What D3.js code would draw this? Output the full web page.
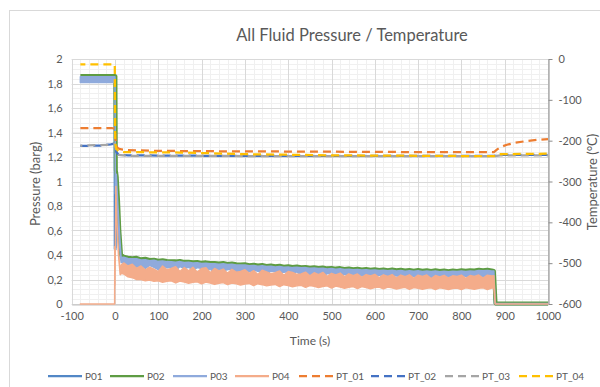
<!DOCTYPE html>
<html><head><meta charset="utf-8">
<script src="https://cdn.jsdelivr.net/npm/d3@7"></script>
<style>
body{margin:0;background:#fff}
svg{display:block;font-family:Lato,"Open Sans",sans-serif}
</style>
</head><body>
<svg id="chart" width="600" height="387"></svg>
<script>
// ---------- DATA ----------
const title = "All Fluid Pressure / Temperature";
const xTitle = "Time (s)";
const yLeftTitle = "Pressure (barg)";
const yRightTitle = "Temperature (°C)";
const xTicks = [-100,0,100,200,300,400,500,600,700,800,900,1000];
const leftTicks = [0,0.2,0.4,0.6,0.8,1,1.2,1.4,1.6,1.8,2];
const leftTickLabels = ["0","0,2","0,4","0,6","0,8","1","1,2","1,4","1,6","1,8","2"];
const rightTicks = [0,-100,-200,-300,-400,-500,-600];
const rightTickLabels = ["0","-100","-200","-300","-400","-500","-600"];
const seriesNames = ["P01","P02","P03","P04","PT_01","PT_02","PT_03","PT_04"];
const seriesColors = ["#5287C6","#5E9C43","#8FAADC","#F4AC8A","#ED7D31","#4472C4","#A5A5A5","#FFC000"];

// sample times of the noisy flow period (s)
const noiseTime = d3.range(20, 871, 10);

// P01 [t, value]
const p01Head = [[-80,1.826],[0,1.826],[0.5,0.45],[1.5,0.9],[3,1.05],[6,0.85],[10,0.55],[14,0.37]];
const p01Noise = [.372,.365,.36,.362,.352,.356,.347,.35,.34,.346,.339,.338,.334,.34,.33,.333,.328,.331,.323,.327,.321,.322,.317,.321,.314,.318,.311,.31,.312,.305,.308,.301,.305,.298,.302,.295,.299,.292,.296,.289,.293,.287,.29,.283,.287,.281,.285,.278,.282,.276,.28,.273,.277,.271,.275,.269,.273,.267,.271,.265,.269,.263,.268,.262,.266,.26,.265,.259,.264,.258,.263,.257,.262,.256,.261,.255,.26,.257,.262,.258,.263,.26,.266,.263,.267,.261];
const p01Tail = [[875,.26],[878,.003],[1000,.003]];

// P02 [t, value]
const p02Head = [[-80,1.862],[0,1.862],[1,1.86],[2,1.09],[4,1.04],[7,0.85],[10,0.6],[14,0.4]];
const p02Noise = [.386,.378,.374,.377,.365,.369,.360,.362,.354,.358,.352,.350,.348,.351,.344,.345,.341,.343,.336,.340,.334,.335,.330,.334,.327,.331,.324,.323,.325,.317,.321,.314,.318,.311,.315,.308,.312,.305,.309,.302,.306,.300,.303,.296,.300,.294,.298,.291,.295,.289,.293,.286,.290,.284,.288,.282,.286,.280,.284,.278,.282,.276,.281,.275,.279,.273,.278,.272,.277,.271,.276,.270,.275,.269,.274,.268,.273,.270,.275,.271,.276,.273,.279,.276,.280,.274];
const p02Tail = [[875,.27],[879,.004],[1000,.004]];

// P03 band [t, low, high]
const p03Head = [[-80,1.808,1.856],[0,1.808,1.856],[0.8,0.9,1.0],[3,0.98,1.06],[6,0.75,0.85],[10,0.5,0.6],[14,0.34,0.38]];
const p03NoiseHi = [.381,.371,.369,.370,.360,.362,.354,.357,.348,.352,.346,.345,.341,.346,.338,.340,.335,.337,.331,.333,.329,.329,.324,.328,.322,.325,.318,.318,.319,.312,.315,.309,.312,.306,.309,.303,.306,.300,.303,.297,.300,.295,.297,.291,.294,.289,.292,.286,.289,.284,.287,.281,.284,.279,.282,.277,.280,.275,.278,.273,.276,.271,.275,.270,.273,.268,.272,.267,.271,.266,.270,.265,.269,.264,.268,.263,.267,.265,.269,.266,.270,.268,.273,.271,.274,.269];
const p03NoiseLo = [.330,.310,.325,.300,.318,.290,.315,.300,.280,.312,.296,.300,.272,.306,.290,.300,.276,.298,.290,.264,.288,.250,.285,.270,.282,.286,.259,.260,.280,.262,.276,.268,.253,.240,.270,.263,.247,.260,.264,.247,.262,.235,.258,.241,.255,.249,.233,.246,.250,.234,.225,.243,.236,.239,.245,.228,.243,.236,.231,.234,.239,.222,.236,.228,.226,.230,.234,.225,.223,.226,.231,.215,.230,.224,.219,.223,.228,.215,.230,.226,.221,.228,.233,.220,.234,.229];
const p03Tail = [[875,.23,.27],[878,.002,.004],[1000,.002,.004]];

// P04 band [t, low, high]
const p04Head = [[-80,0,0],[-0.8,0,0],[-0.5,0.47,0.47],[0,0.15,0.15],[2,0.96,0.96],[4,0.7,0.7],[8,0.4,0.42],[12,0.24,0.28],[15,0.25,0.32]];
const p04NoiseHi = [.335,.31,.325,.29,.31,.278,.30,.285,.265,.31,.28,.29,.305,.265,.298,.27,.30,.26,.29,.295,.255,.29,.27,.285,.25,.283,.26,.265,.28,.25,.272,.24,.275,.262,.248,.255,.27,.235,.265,.258,.242,.245,.26,.23,.255,.24,.258,.225,.25,.238,.252,.222,.246,.232,.245,.218,.24,.228,.242,.215,.238,.225,.24,.212,.236,.222,.238,.21,.235,.225,.236,.208,.232,.22,.234,.212,.23,.224,.235,.21,.232,.225,.236,.212,.235,.228];
const p04NoiseLo = [.245,.222,.215,.2,.2,.19,.195,.185,.19,.178,.186,.19,.172,.188,.18,.17,.178,.182,.165,.18,.172,.16,.17,.175,.158,.172,.165,.155,.163,.168,.15,.166,.158,.148,.155,.16,.143,.158,.15,.14,.148,.153,.136,.151,.144,.135,.142,.148,.13,.146,.138,.128,.137,.143,.126,.142,.135,.125,.134,.139,.123,.138,.132,.122,.131,.136,.12,.135,.129,.12,.128,.133,.118,.132,.127,.119,.127,.131,.118,.132,.127,.12,.128,.132,.119,.13];
const p04Tail = [[875,.13,.23],[878,0,.001],[1000,0,.001]];

// Temperatures [t, °C]
const pt01 = [[-80,-169],[-8,-169],[0,-171],[1,-195],[3,-212],[6,-218],[12,-221],[30,-223],[100,-225],[250,-226],[500,-227],[700,-228],[875,-228],[882,-222],[890,-216],[905,-210],[925,-205],[950,-201],[975,-198],[1000,-196]];
const pt02 = [[-80,-213],[-30,-212],[-10,-209],[0,-207],[1,-215],[3,-228],[8,-234],[30,-236],[200,-237],[500,-237],[875,-237],[890,-235],[1000,-235]];
const pt03 = [[-80,-212],[-10,-210],[0,-208],[1,-216],[3,-229],[8,-235],[30,-237],[500,-238],[875,-238],[890,-236],[1000,-236]];
const pt04 = [[-80,-13],[-0.5,-13],[0,-120],[0.5,-205],[3,-220],[8,-226],[20,-228],[150,-229],[300,-233],[500,-236],[700,-237],[875,-238],[890,-233],[1000,-232]];

// ---------- BUILD ----------
function zipLine(head, vals, tail){
  const n = Math.min(noiseTime.length, vals.length);
  return head.concat(noiseTime.slice(0,n).map((t,i)=>[t, vals[i]]), tail);
}
function zipBand(head, lo, hi, tail){
  const n = Math.min(noiseTime.length, lo.length, hi.length);
  return head.concat(noiseTime.slice(0,n).map((t,i)=>[t, lo[i], hi[i]]), tail);
}
const P01 = zipLine(p01Head, p01Noise, p01Tail);
const P02 = zipLine(p02Head, p02Noise, p02Tail);
const P03 = zipBand(p03Head, p03NoiseLo, p03NoiseHi, p03Tail);
const P04 = zipBand(p04Head, p04NoiseLo, p04NoiseHi, p04Tail);

const svg = d3.select("#chart");
const textColor = "#595959";
const X0 = 71.7, X1 = 548, Y0 = 304, Y1 = 59;
const x = d3.scaleLinear().domain([-100,1000]).range([X0,X1]);
const yL = d3.scaleLinear().domain([0,2]).range([Y0,Y1]);
const yR = d3.scaleLinear().domain([-600,0]).range([Y0,Y1]);

// chart area border
svg.append("rect").attr("x",9.5).attr("y",10.5).attr("width",620).attr("height",400)
  .attr("fill","#fff").attr("stroke","#d9d9d9");

// grid
const g = svg.append("g");
const minorX = d3.range(-100, 1001, 20);
const minorY = d3.range(0, 2.0001, 0.04);
g.selectAll(".mx").data(minorX).join("line")
  .attr("x1",d=>Math.round(x(d))+0.5).attr("x2",d=>Math.round(x(d))+0.5)
  .attr("y1",Y1).attr("y2",Y0).attr("stroke","#f0f0f0").attr("stroke-width",1);
g.selectAll(".my").data(minorY).join("line")
  .attr("y1",d=>Math.round(yL(d))+0.5).attr("y2",d=>Math.round(yL(d))+0.5)
  .attr("x1",X0).attr("x2",X1).attr("stroke","#f0f0f0").attr("stroke-width",1);
g.selectAll(".Mx").data(xTicks).join("line")
  .attr("x1",d=>Math.round(x(d))+0.5).attr("x2",d=>Math.round(x(d))+0.5)
  .attr("y1",Y1).attr("y2",Y0).attr("stroke","#d9d9d9").attr("stroke-width",1);
g.selectAll(".My").data(leftTicks).join("line")
  .attr("y1",d=>Math.round(yL(d))+0.5).attr("y2",d=>Math.round(yL(d))+0.5)
  .attr("x1",X0).attr("x2",X1).attr("stroke","#d9d9d9").attr("stroke-width",1);

// axes
const xAxis = svg.append("g").attr("transform",`translate(0,${Math.round(Y0)+0.5})`)
  .call(d3.axisBottom(x).tickValues(xTicks).tickSize(0).tickPadding(8).tickFormat(d=>String(d)));
xAxis.select(".domain").attr("stroke","#bfbfbf");
const lAxis = svg.append("g").attr("transform",`translate(${X0-6},0)`)
  .call(d3.axisLeft(yL).tickValues(leftTicks).tickSize(0).tickPadding(3).tickFormat((d,i)=>leftTickLabels[i]));
lAxis.select(".domain").remove();
const rAxis = svg.append("g").attr("transform",`translate(${Math.round(X1)+0.5},0)`)
  .call(d3.axisRight(yR).tickValues(rightTicks).tickSizeInner(4).tickSizeOuter(0).tickPadding(6).tickFormat((d,i)=>rightTickLabels[i]));
rAxis.select(".domain").attr("stroke","#8c8c8c");
rAxis.selectAll(".tick line").attr("stroke","#8c8c8c");
svg.selectAll(".tick text").attr("fill",textColor).style("font-size","11px").style("font-family","Lato,sans-serif");

// series
const line = d3.line().x(d=>x(d[0])).y(d=>yL(d[1]));
const band = d3.area().x(d=>x(d[0])).y0(d=>yL(d[1])).y1(d=>yL(d[2]));
const lineR = d3.line().x(d=>x(d[0])).y(d=>yR(d[1]));
const data = svg.append("g");
data.append("path").datum(P01).attr("d",line).attr("fill","none").attr("stroke",seriesColors[0]).attr("stroke-width",3).attr("stroke-linejoin","round");
data.append("path").datum(P02).attr("d",line).attr("fill","none").attr("stroke",seriesColors[1]).attr("stroke-width",4).attr("stroke-linejoin","round");
data.append("path").datum(P03).attr("d",band).attr("fill",seriesColors[2]).attr("stroke",seriesColors[2]).attr("stroke-width",1.5).attr("stroke-linejoin","round");
data.append("path").datum(P04).attr("d",band).attr("fill",seriesColors[3]).attr("stroke",seriesColors[3]).attr("stroke-width",1.5).attr("stroke-linejoin","round");
const dashOffsets = [0,0,6,3];
[pt01,pt02,pt03,pt04].forEach((s,i)=>{
  data.append("path").datum(s).attr("d",lineR).attr("fill","none")
    .attr("stroke",seriesColors[4+i]).attr("stroke-width",2.25).attr("stroke-dasharray","8,5")
    .attr("stroke-dashoffset",dashOffsets[i]).attr("stroke-linejoin","round");
});

// titles
svg.append("text").attr("x",352).attr("y",41).attr("text-anchor","middle").attr("fill",textColor)
  .style("font-size","16.5px").text(title);
svg.append("text").attr("x",310).attr("y",345).attr("text-anchor","middle").attr("fill",textColor)
  .style("font-size","12px").text(xTitle);
svg.append("text").attr("transform","translate(40,184) rotate(-90)").attr("text-anchor","middle").attr("fill",textColor)
  .style("font-size","13px").text(yLeftTitle);
svg.append("text").attr("transform","translate(597,182) rotate(-90)").attr("text-anchor","middle").attr("fill",textColor)
  .style("font-size","13px").text(yRightTitle);

// legend
const legendStarts = [48,110,173,235,299,371,445,519];
const leg = svg.append("g");
const ly = 376;
seriesNames.forEach((name,i)=>{
  const cx = legendStarts[i];
  const ln = leg.append("line").attr("x1",cx).attr("x2",cx+34).attr("y1",ly).attr("y2",ly)
    .attr("stroke",seriesColors[i]).attr("stroke-width",2.25);
  if(i>=4) ln.attr("stroke-dasharray","8,5");
  leg.append("text").attr("x",cx+37).attr("y",ly+3.5).attr("fill",textColor).style("font-size","10px").text(name);
});
</script>
</body></html>
